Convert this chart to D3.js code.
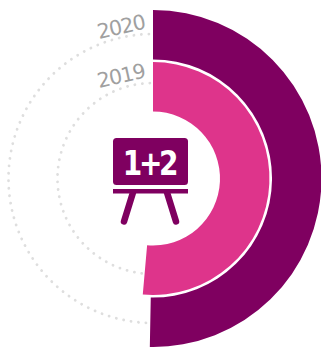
<!DOCTYPE html>
<html lang="en">
<head>
    <meta charset="utf-8">
    <style>
        html, body { margin: 0; padding: 0; background: #fff; }
        svg { display: block; }
    </style>
    <script src="https://d3js.org/d3.v7.min.js"></script>
</head>
<body>
<script type="text/javascript">

    // share of the full circle
    var years = ["2020", "2019"];
    var values = [50.3, 51.4];
    var colors = ["#7f0060", "#de348b"];
    var boardLabel = "1+2";

    var width = 321, height = 347;
    var cx = 153, cy = 178.5;

    var svg = d3.select("body")
        .append("svg")
        .attr("width", width)
        .attr("height", height);

    var g = svg.append("g").attr("transform", "translate(" + cx + "," + cy + ")");

    var angle = d3.scaleLinear().domain([0, 100]).range([0, 2 * Math.PI]);
    var ring = d3.scaleBand().domain(years).range([168.5, 67]).paddingInner(0.05);
    var trackRadius = d3.scaleOrdinal().domain(years).range([144.5, 95.5]);

    var arc = d3.arc()
        .innerRadius(function(d) { return ring(d.year); })
        .outerRadius(function(d) { return ring(d.year) + ring.bandwidth(); })
        .startAngle(0)
        .endAngle(function(d) { return angle(d.value); });

    var data = years.map(function(y, i) { return {year: y, value: values[i], color: colors[i]}; });

    // dotted track for the rest of each ring
    function track(d) {
        var p = d3.path();
        p.arc(0, 0, trackRadius(d.year), angle(d.value) - Math.PI / 2 + 0.03, 1.5 * Math.PI);
        return p.toString();
    }

    g.selectAll(".track")
        .data(data)
        .enter()
        .append("path")
        .attr("class", "track")
        .attr("d", track)
        .attr("fill", "none")
        .attr("stroke", "#dedede")
        .attr("stroke-width", 2.8)
        .attr("stroke-linecap", "round")
        .attr("stroke-dasharray", "0.1 7.4");

    g.selectAll(".slice")
        .data(data)
        .enter()
        .append("path")
        .attr("class", "slice")
        .attr("d", arc)
        .attr("fill", function(d) { return d.color; });

    // year labels, rotated and ending just left of the top of the ring
    g.selectAll(".year")
        .data(data)
        .enter()
        .append("text")
        .attr("class", "year")
        .attr("transform", function(d) {
            return "translate(-7," + (-trackRadius(d.year) - 5.5) + ") rotate(-12.5)";
        })
        .attr("text-anchor", "end")
        .attr("font-family", "'DejaVu Sans', sans-serif")
        .attr("font-size", 20.5)
        .attr("letter-spacing", -1)
        .attr("fill", "#a0a0a0")
        .text(function(d) { return d.year; });

    // blackboard icon
    var icon = g.append("g").attr("fill", "#7f0060").attr("stroke", "none");

    icon.append("rect").attr("x", -40).attr("y", -40.5).attr("width", 75).attr("height", 47).attr("rx", 3.5);
    icon.append("rect").attr("x", -40).attr("y", 10.5).attr("width", 75).attr("height", 4.5);

    var legs = [[[-20, 14], [-29, 43]], [[14, 14], [23, 43]]];
    icon.selectAll(".leg")
        .data(legs)
        .enter()
        .append("path")
        .attr("class", "leg")
        .attr("d", d3.line())
        .attr("fill", "none")
        .attr("stroke", "#7f0060")
        .attr("stroke-width", 6.5)
        .attr("stroke-linecap", "round");

    icon.append("text")
        .attr("transform", "translate(-4,-3.5) scale(0.85,1)")
        .attr("text-anchor", "middle")
        .attr("font-family", "'DejaVu Sans', sans-serif")
        .attr("font-weight", "bold")
        .attr("font-size", 33)
        .attr("letter-spacing", -4)
        .attr("fill", "#fff")
        .text(boardLabel);

</script>
</body>
</html>
